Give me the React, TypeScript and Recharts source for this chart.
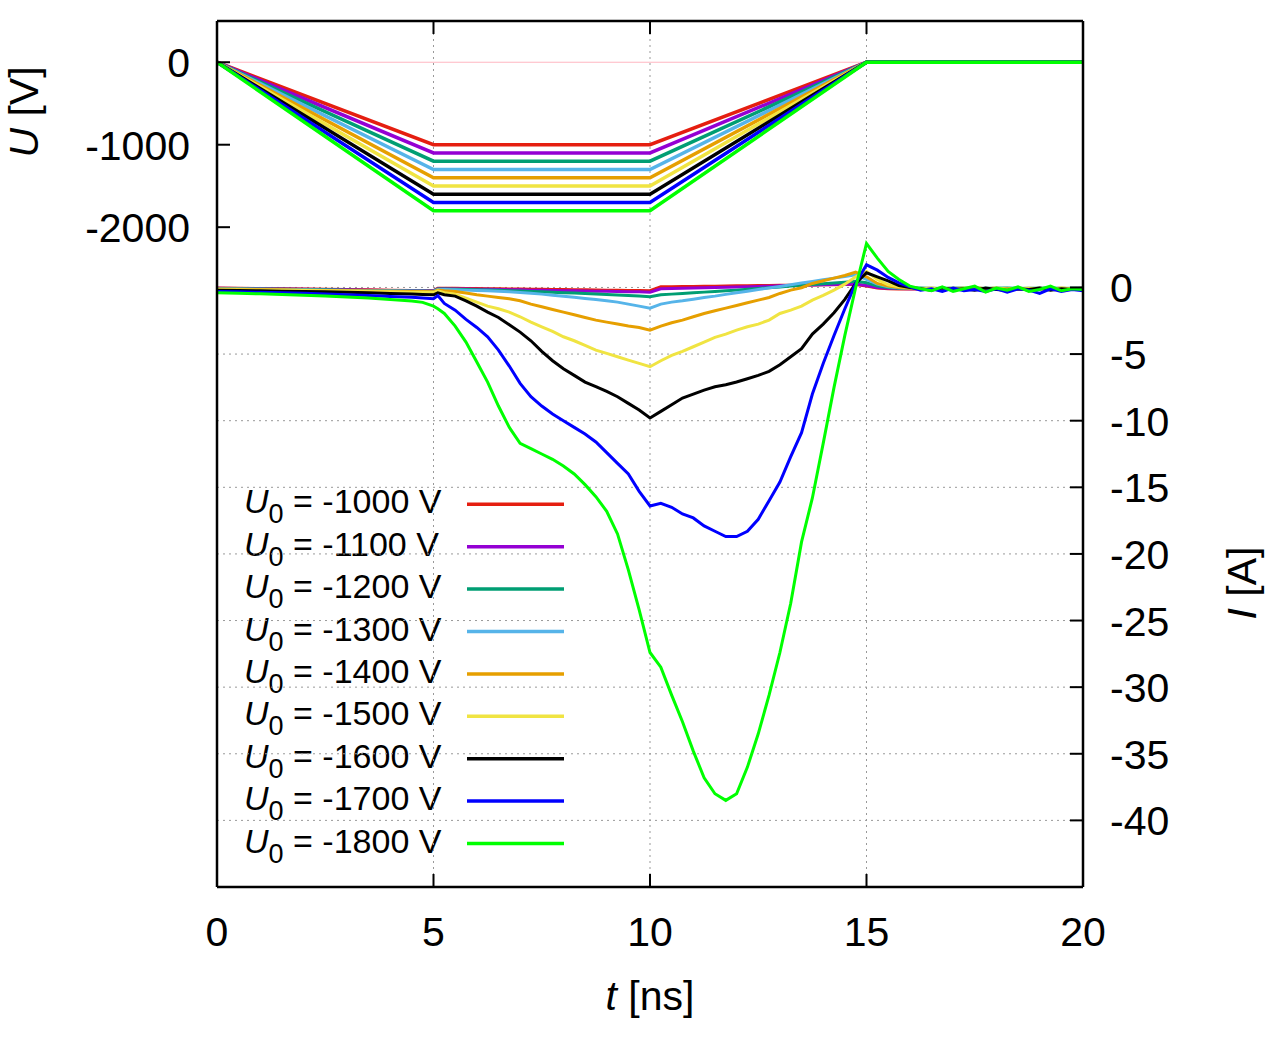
import React from 'react';
import { ComposedChart, Line, XAxis, YAxis, ReferenceLine, Customized } from 'recharts';

const FONT = '"Liberation Sans", Arial, Helvetica, sans-serif';

// ---- series labels & colours ----
const labels = ['-1000', '-1100', '-1200', '-1300', '-1400', '-1500', '-1600', '-1700', '-1800'];
const colors = ['#e51e10', '#9400d3', '#009e73', '#56b4e9', '#e69f00', '#f0e442', '#000000', '#0000ff', '#00ff00'];

// ---- voltage U(t) [V] ----
const tU = [0, 5, 10, 15, 20];
const U1000 = [0, -1000, -1000, 0, 0];
const U1100 = [0, -1100, -1100, 0, 0];
const U1200 = [0, -1200, -1200, 0, 0];
const U1300 = [0, -1300, -1300, 0, 0];
const U1400 = [0, -1400, -1400, 0, 0];
const U1500 = [0, -1500, -1500, 0, 0];
const U1600 = [0, -1600, -1600, 0, 0];
const U1700 = [0, -1700, -1700, 0, 0];
const U1800 = [0, -1800, -1800, 0, 0];

// ---- current I(t) [A] ----
const tI = [
  0, 0.5, 1, 1.5, 2, 2.5, 3, 3.5, 4, 4.5,
  4.75, 5, 5.1,
  5.25, 5.5, 5.75, 6, 6.25, 6.5, 6.75, 7, 7.25, 7.5, 7.75, 8, 8.25, 8.5, 8.75, 9, 9.25, 9.5, 9.75,
  10, 10.25, 10.5, 10.75, 11, 11.25, 11.5, 11.75, 12, 12.25, 12.5, 12.75, 13, 13.25, 13.5, 13.75, 14, 14.25, 14.5, 14.75,
  15, 15.25, 15.5, 15.75, 16, 16.25, 16.5, 16.75, 17, 17.25, 17.5, 17.75, 18, 18.25, 18.5, 18.75, 19, 19.25, 19.5, 19.75, 20,
];
const I1000 = [
  -0.04, -0.06, -0.08, -0.1, -0.12, -0.14, -0.16, -0.18, -0.2, -0.22,
  -0.23, -0.24, -0.05,
  -0.05, -0.06, -0.07, -0.08, -0.09, -0.1, -0.11, -0.12, -0.13, -0.14, -0.15, -0.16, -0.17, -0.18, -0.19, -0.2, -0.21, -0.22, -0.23,
  -0.24, 0.05, 0.06, 0.07, 0.08, 0.09, 0.1, 0.11, 0.12, 0.13, 0.14, 0.15, 0.16, 0.17, 0.18, 0.19, 0.2, 0.21, 0.22, 0.23,
  0.1, -0.05, -0.1, -0.12, -0.12, -0.1, -0.12, -0.11, -0.12, -0.1, -0.12, -0.11, -0.12, -0.1, -0.12, -0.11, -0.12, -0.1, -0.12, -0.11, -0.12,
];
const I1100 = [
  -0.06, -0.08, -0.1, -0.12, -0.14, -0.16, -0.18, -0.2, -0.22, -0.24,
  -0.25, -0.26, -0.1,
  -0.1, -0.11, -0.12, -0.13, -0.14, -0.15, -0.17, -0.18, -0.2, -0.21, -0.22, -0.24, -0.25, -0.26, -0.28, -0.29, -0.3, -0.32, -0.33,
  -0.35, -0.1, -0.08, -0.06, -0.04, -0.02, 0.0, 0.02, 0.04, 0.06, 0.08, 0.1, 0.12, 0.14, 0.16, 0.18, 0.2, 0.22, 0.24, 0.26,
  0.15, 0.0, -0.05, -0.08, -0.1, -0.08, -0.1, -0.08, -0.1, -0.08, -0.1, -0.08, -0.1, -0.08, -0.1, -0.08, -0.1, -0.08, -0.1, -0.08, -0.1,
];
const I1200 = [
  -0.08, -0.1, -0.12, -0.14, -0.16, -0.18, -0.2, -0.22, -0.24, -0.26,
  -0.27, -0.28, -0.12,
  -0.12, -0.13, -0.15, -0.17, -0.19, -0.21, -0.24, -0.27, -0.3, -0.33, -0.36, -0.39, -0.42, -0.46, -0.5, -0.53, -0.57, -0.61, -0.65,
  -0.7, -0.55, -0.5, -0.45, -0.4, -0.35, -0.3, -0.25, -0.2, -0.14, -0.08, -0.02, 0.04, 0.1, 0.16, 0.22, 0.28, 0.34, 0.4, 0.46,
  0.35, 0.1, 0.0, -0.05, -0.06, -0.04, -0.07, -0.05, -0.06, -0.04, -0.07, -0.05, -0.06, -0.04, -0.07, -0.05, -0.06, -0.04, -0.07, -0.05, -0.06,
];
const I1300 = [
  -0.1, -0.12, -0.14, -0.16, -0.18, -0.2, -0.22, -0.24, -0.26, -0.28,
  -0.29, -0.3, -0.15,
  -0.15, -0.17, -0.2, -0.22, -0.25, -0.28, -0.33, -0.37, -0.43, -0.5, -0.58, -0.66, -0.74, -0.82, -0.9, -1.0, -1.1, -1.25, -1.4,
  -1.55, -1.25, -1.1, -1.0, -0.88, -0.76, -0.65, -0.52, -0.4, -0.28, -0.15, -0.03, 0.08, 0.2, 0.33, 0.45, 0.58, 0.7, 0.83, 0.95,
  0.6, 0.25, 0.05, -0.02, -0.05, -0.08, -0.05, -0.1, -0.05, -0.08, -0.05, -0.1, -0.05, -0.08, -0.05, -0.1, -0.05, -0.08, -0.05, -0.1, -0.05,
];
const I1400 = [
  -0.12, -0.14, -0.16, -0.18, -0.2, -0.22, -0.24, -0.26, -0.28, -0.3,
  -0.31, -0.33, -0.2,
  -0.25, -0.3, -0.42, -0.55, -0.65, -0.75, -0.85, -1.0, -1.25, -1.45, -1.65, -1.85, -2.05, -2.25, -2.45, -2.6, -2.75, -2.9, -3.0,
  -3.2, -2.9, -2.65, -2.45, -2.2, -1.95, -1.75, -1.55, -1.35, -1.15, -0.95, -0.75, -0.45, -0.2, -0.02, 0.3, 0.5, 0.7, 0.9, 1.15,
  0.8, 0.3, 0.1, 0.0, -0.05, -0.1, -0.05, -0.1, -0.05, -0.1, 0.0, -0.1, -0.05, -0.1, -0.05, -0.1, -0.05, -0.1, -0.05, -0.1, -0.05,
];
const I1500 = [
  -0.15, -0.17, -0.19, -0.21, -0.23, -0.25, -0.27, -0.3, -0.32, -0.35,
  -0.36, -0.38, -0.25,
  -0.4, -0.5, -0.8, -1.1, -1.4, -1.6, -1.85, -2.2, -2.6, -2.95, -3.3, -3.7, -4.0, -4.35, -4.7, -4.95, -5.2, -5.45, -5.7,
  -5.95, -5.5, -5.1, -4.8, -4.45, -4.1, -3.75, -3.5, -3.2, -2.95, -2.75, -2.45, -1.95, -1.7, -1.4, -0.95, -0.6, -0.2, 0.25, 0.8,
  1.2, 0.6, 0.2, 0.05, 0.0, -0.1, -0.05, -0.15, -0.1, -0.05, -0.15, -0.1, -0.05, -0.15, -0.1, -0.05, -0.1, -0.15, -0.05, -0.1, -0.1,
];
const I1600 = [
  -0.2, -0.22, -0.25, -0.28, -0.3, -0.33, -0.36, -0.4, -0.45, -0.5,
  -0.52, -0.55, -0.4,
  -0.55, -0.65, -1.0, -1.4, -1.85, -2.25, -2.8, -3.35, -4.0, -4.8, -5.5, -6.1, -6.6, -7.1, -7.45, -7.8, -8.2, -8.7, -9.2,
  -9.8, -9.3, -8.8, -8.3, -8.0, -7.7, -7.45, -7.3, -7.1, -6.85, -6.6, -6.3, -5.8, -5.2, -4.6, -3.5, -2.75, -1.9, -0.9, 0.3,
  1.1, 0.8, 0.5, 0.15, 0.0, -0.1, -0.2, -0.05, -0.15, -0.1, -0.2, -0.05, -0.15, -0.2, -0.1, -0.15, -0.05, -0.2, -0.1, -0.15, -0.1,
];
const I1700 = [
  -0.3, -0.33, -0.36, -0.4, -0.44, -0.5, -0.55, -0.6, -0.67, -0.74,
  -0.8, -0.85, -0.6,
  -1.2, -1.7, -2.4, -3.0, -3.7, -4.7, -5.9, -7.2, -8.2, -8.9, -9.5, -10.0, -10.5, -11.0, -11.6, -12.4, -13.2, -14.0, -15.3,
  -16.4, -16.2, -16.5, -17.0, -17.3, -17.9, -18.3, -18.7, -18.7, -18.3, -17.4, -16.0, -14.6, -12.7, -10.9, -8.0, -5.7, -3.6, -1.6, 0.3,
  1.7, 1.3, 0.75, 0.35, 0.05, -0.2, -0.1, -0.3, -0.05, -0.25, -0.15, -0.3, -0.1, -0.35, -0.1, -0.2, -0.45, -0.1, -0.3, -0.15, -0.25,
];
const I1800 = [
  -0.4, -0.44, -0.48, -0.53, -0.58, -0.65, -0.72, -0.8, -0.9, -1.02,
  -1.12, -1.4, -1.6,
  -1.95, -2.9, -4.1, -5.6, -7.1, -8.9, -10.5, -11.7, -12.1, -12.5, -12.9, -13.4, -14.0, -14.8, -15.7, -16.8, -18.5, -21.2, -24.2,
  -27.4, -28.5, -30.6, -32.6, -34.8, -36.8, -38.0, -38.5, -38.0, -36.0, -33.5, -30.6, -27.4, -23.7, -19.1, -15.8, -11.7, -7.5, -3.6, 0.0,
  3.3, 2.2, 1.2, 0.6, 0.1, -0.1, -0.25, 0.05, -0.3, -0.1, 0.1, -0.35, -0.05, -0.2, 0.05, -0.3, -0.15, 0.1, -0.25, -0.1, -0.15,
];

// ---- axis ticks ----
const xTicks = [0, 5, 10, 15, 20];
const xGrid = [5, 10, 15];
const uTicks = [0, -1000, -2000];
const iTicks = [0, -5, -10, -15, -20, -25, -30, -35, -40];

const uValues = [U1000, U1100, U1200, U1300, U1400, U1500, U1600, U1700, U1800];
const iValues = [I1000, I1100, I1200, I1300, I1400, I1500, I1600, I1700, I1800];

const toPoints = (ts: number[], vs: number[]) => ts.map((t, i) => ({ t, v: vs[i] }));

const uData = uValues.map((vs) => toPoints(tU, vs));
const iData = iValues.map((vs) => toPoints(tI, vs));

const TICK_LEN = 13;
const TICK_FS = 41;

const BottomTick = (p: any) => (
  <g>
    <line x1={p.x} y1={p.y} x2={p.x} y2={p.y - TICK_LEN} stroke="#000" strokeWidth={2} />
    <text x={p.x} y={p.y + 59} textAnchor="middle" fontFamily={FONT} fontSize={TICK_FS} fill="#000">
      {p.payload.value}
    </text>
  </g>
);

const TopTick = (p: any) => (
  <line x1={p.x} y1={p.y} x2={p.x} y2={p.y + TICK_LEN} stroke="#000" strokeWidth={2} />
);

const LeftTick = (p: any) => (
  <g>
    <line x1={p.x} y1={p.y} x2={p.x + TICK_LEN} y2={p.y} stroke="#000" strokeWidth={2} />
    <text x={p.x - 27} y={p.y + 15} textAnchor="end" fontFamily={FONT} fontSize={TICK_FS} fill="#000">
      {p.payload.value}
    </text>
  </g>
);

const RightTick = (p: any) => (
  <g>
    <line x1={p.x} y1={p.y} x2={p.x - TICK_LEN} y2={p.y} stroke="#000" strokeWidth={2} />
    <text x={p.x + 27} y={p.y + 15} textAnchor="start" fontFamily={FONT} fontSize={TICK_FS} fill="#000">
      {p.payload.value}
    </text>
  </g>
);

const Decor = () => (
  <g>
    {/* opaque key */}
    <rect x={219} y={480} width={362} height={384} fill="#ffffff" />
    {labels.map((lab, i) => {
      const y = 504.3 + 42.4 * i;
      return (
        <g key={lab}>
          <text x={244} y={y + 9} textAnchor="start" fontFamily={FONT} fontSize={34} fill="#000" style={{ whiteSpace: 'pre' }}>
            <tspan fontStyle="italic">U</tspan>
            <tspan fontSize={27} dy={10}>0</tspan>
            <tspan dy={-10}>{` = ${lab} V`}</tspan>
          </text>
          <line x1={467} x2={564} y1={y} y2={y} stroke={colors[i]} strokeWidth={3.5} />
        </g>
      );
    })}
    {/* axis titles */}
    <text x={38} y={112} transform="rotate(-90, 38, 112)" textAnchor="middle" fontFamily={FONT} fontSize={TICK_FS} fill="#000" style={{ whiteSpace: 'pre' }}>
      <tspan fontStyle="italic">U</tspan>
      <tspan>{' [V]'}</tspan>
    </text>
    <text x={1256} y={583} transform="rotate(-90, 1256, 583)" textAnchor="middle" fontFamily={FONT} fontSize={TICK_FS} fill="#000" style={{ whiteSpace: 'pre' }}>
      <tspan fontStyle="italic">I</tspan>
      <tspan>{' [A]'}</tspan>
    </text>
    <text x={650} y={1010} textAnchor="middle" fontFamily={FONT} fontSize={TICK_FS} fill="#000" style={{ whiteSpace: 'pre' }}>
      <tspan fontStyle="italic">t</tspan>
      <tspan>{' [ns]'}</tspan>
    </text>
  </g>
);

export default function App() {
  return (
    <div style={{ position: 'absolute', left: 0, top: 0, width: 1270, height: 1039, background: '#fff' }}>
      <ComposedChart width={1270} height={1039} margin={{ top: 20, right: 87, bottom: 92, left: 117 }}>
        <XAxis
          xAxisId="b"
          type="number"
          dataKey="t"
          domain={[0, 20]}
          ticks={xTicks}
          interval={0}
          tickSize={0}
          tickMargin={0}
          tickLine={false}
          axisLine={{ stroke: '#000', strokeWidth: 2.5 }}
          tick={BottomTick}
          height={60}
          allowDataOverflow
        />
        <XAxis
          xAxisId="top"
          orientation="top"
          type="number"
          dataKey="t"
          domain={[0, 20]}
          ticks={xGrid}
          interval={0}
          tickSize={0}
          tickMargin={0}
          tickLine={false}
          axisLine={{ stroke: '#000', strokeWidth: 2.5 }}
          tick={TopTick}
          height={1}
          allowDataOverflow
        />
        <YAxis
          yAxisId="U"
          orientation="left"
          type="number"
          domain={[-10000, 500]}
          ticks={uTicks}
          interval={0}
          tickSize={0}
          tickMargin={0}
          tickLine={false}
          axisLine={{ stroke: '#000', strokeWidth: 2.5 }}
          tick={LeftTick}
          width={100}
          allowDataOverflow
        />
        <YAxis
          yAxisId="I"
          orientation="right"
          type="number"
          domain={[-45, 20]}
          ticks={iTicks}
          interval={0}
          tickSize={0}
          tickMargin={0}
          tickLine={false}
          axisLine={{ stroke: '#000', strokeWidth: 2.5 }}
          tick={RightTick}
          width={100}
          allowDataOverflow
        />

        {xGrid.map((x) => (
          <ReferenceLine key={'gx' + x} xAxisId="b" yAxisId="I" x={x} stroke="#999999" strokeWidth={1} strokeDasharray="2 4" />
        ))}
        {iTicks.map((y) => (
          <ReferenceLine key={'gy' + y} xAxisId="b" yAxisId="I" y={y} stroke="#999999" strokeWidth={1} strokeDasharray="2 4" />
        ))}
        <ReferenceLine xAxisId="b" yAxisId="U" y={0} stroke="#ffb6c1" strokeWidth={1} />

        {uData.map((d, i) => (
          <Line
            key={'u' + i}
            data={d}
            xAxisId="b"
            yAxisId="U"
            dataKey="v"
            type="linear"
            stroke={colors[i]}
            strokeWidth={3.5}
            dot={false}
            activeDot={false}
            isAnimationActive={false}
          />
        ))}
        {iData.map((d, i) => (
          <Line
            key={'i' + i}
            data={d}
            xAxisId="b"
            yAxisId="I"
            dataKey="v"
            type="linear"
            stroke={colors[i]}
            strokeWidth={3}
            dot={false}
            activeDot={false}
            isAnimationActive={false}
          />
        ))}
        <Customized component={Decor} />
      </ComposedChart>
    </div>
  );
}
